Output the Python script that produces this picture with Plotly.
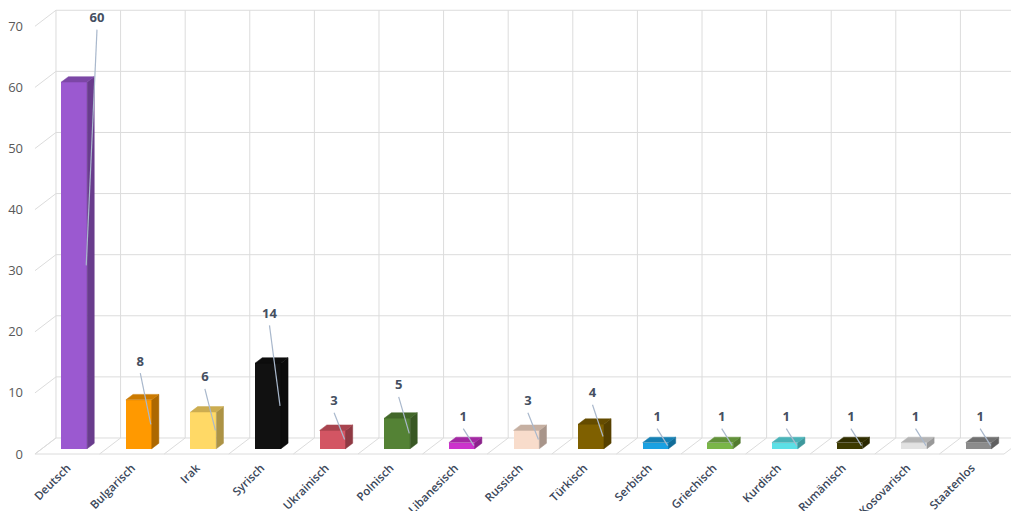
import plotly.graph_objects as go

# ---------------- data ----------------
categories = ["Deutsch", "Bulgarisch", "Irak", "Syrisch", "Ukrainisch", "Polnisch",
              "Libanesisch", "Russisch", "Türkisch", "Serbisch", "Griechisch",
              "Kurdisch", "Rumänisch", "Kosovarisch", "Staatenlos"]
values = [60, 8, 6, 14, 3, 5, 1, 3, 4, 1, 1, 1, 1, 1, 1]
y_ticks = [0, 10, 20, 30, 40, 50, 60, 70]

# ---------------- style ----------------
front_colors = ["#9b59d0", "#ff9900", "#ffd966", "#111111", "#d35563", "#548235",
                "#cc33cc", "#f8dccb", "#7f6000", "#1ba1e2", "#7ab648",
                "#5ce0e6", "#3d3a00", "#e2e2e2", "#8c8c8c"]

def shade(hexcol, f):
    h = hexcol.lstrip("#")
    r, g, b = (int(h[i:i + 2], 16) for i in (0, 2, 4))
    return "#%02x%02x%02x" % (int(r * f), int(g * f), int(b * f))

GRID = "#dcdcdc"
DX, DY = 0.325, 2.62      # full depth of the 3D box in axis units
F0, F1 = 0.33, 0.67       # depth slice occupied by the bars
BW = 0.40                 # bar front width
dxb, dyb = (F1 - F0) * DX, (F1 - F0) * DY
base = F0 * DY
n = len(categories)
ymax = y_ticks[-1]

fig = go.Figure()

# front faces
xc = [i + F0 * DX for i in range(n)]
fig.add_trace(go.Bar(x=xc, y=values, base=base, width=BW,
                     marker=dict(color=front_colors, line=dict(width=0)),
                     hoverinfo="skip", showlegend=False))

# side and top faces
for i, v in enumerate(values):
    xl, xr = xc[i] - BW / 2, xc[i] + BW / 2
    y0, y1 = base, base + v
    fig.add_trace(go.Scatter(
        x=[xr, xr + dxb, xr + dxb, xr, xr],
        y=[y0, y0 + dyb, y1 + dyb, y1, y0],
        fill="toself", mode="lines", fillcolor=shade(front_colors[i], 0.68),
        line=dict(width=0.5, color=shade(front_colors[i], 0.68)),
        hoverinfo="skip", showlegend=False))
    fig.add_trace(go.Scatter(
        x=[xl, xr, xr + dxb, xl + dxb, xl],
        y=[y1, y1, y1 + dyb, y1 + dyb, y1],
        fill="toself", mode="lines", fillcolor=shade(front_colors[i], 0.8),
        line=dict(width=0.5, color=shade(front_colors[i], 0.8)),
        hoverinfo="skip", showlegend=False))

# leader lines and data labels
lx, ly, lead_x, lead_y = [], [], [], []
for i, v in enumerate(values):
    yl = 1.3 * v + 4.6
    clamped = yl > 71.2
    yl = min(yl, 71.2)
    xlab = i + 0.13 + (0.33 if clamped else 0.0)
    lx.append(xlab)
    ly.append(yl)
    lead_x += [xlab, xc[i] + 0.186, None]
    lead_y += [yl - 1.75, base + v / 2, None]

fig.add_trace(go.Scatter(x=lead_x, y=lead_y, mode="lines",
                         line=dict(color="#a9b8cc", width=1.2),
                         hoverinfo="skip", showlegend=False))
fig.add_trace(go.Scatter(x=lx, y=ly, mode="text", text=[str(v) for v in values],
                         textfont=dict(family="Open Sans", size=13, color="#454f61",
                                       weight="bold"),
                         hoverinfo="skip", showlegend=False))

# 3D grid (walls + floor)
shapes = []
def seg(x0, y0, x1, y1):
    shapes.append(dict(type="line", xref="x", yref="y", x0=x0, y0=y0, x1=x1, y1=y1,
                       line=dict(color=GRID, width=1), layer="below"))

for t in y_ticks:
    seg(-0.5 + DX, t + DY, n - 0.5 + DX + 1, t + DY)      # back wall horizontals
    seg(-0.5, t, -0.5 + DX, t + DY)                        # left wall diagonals
seg(-0.5 + DX, DY, -0.5 + DX, ymax + DY)                   # back-left edge
for k in range(n):
    xb = k + 0.5 + DX
    seg(xb, DY, xb, ymax + DY)                             # back wall verticals
for k in range(n + 1):
    seg(k - 0.5, 0, k - 0.5 + DX, DY)                      # floor diagonals
seg(-0.5, 0, n - 0.5, 0)                                   # floor front edge

fig.update_layout(
    width=1011, height=511,
    margin=dict(l=30, r=0, t=0, b=53, autoexpand=False),
    paper_bgcolor="white", plot_bgcolor="white",
    shapes=shapes,
    bargap=0,
    xaxis=dict(range=[-0.577, 14.608], tickvals=list(range(n)), ticktext=categories,
               tickangle=-45, showgrid=False, zeroline=False, showline=False, ticks="",
               automargin=False,
               tickfont=dict(family="Open Sans", size=11.5, color="#3b475a", weight=600),
               fixedrange=True),
    yaxis=dict(range=[-0.655, 74.30], tickvals=y_ticks, showgrid=False, zeroline=False,
               showline=False, ticks="", ticklabelstandoff=6, automargin=False,
               tickfont=dict(family="Open Sans", size=13, color="#595959"),
               fixedrange=True),
    showlegend=False,
)

fig.write_html("out.html")
